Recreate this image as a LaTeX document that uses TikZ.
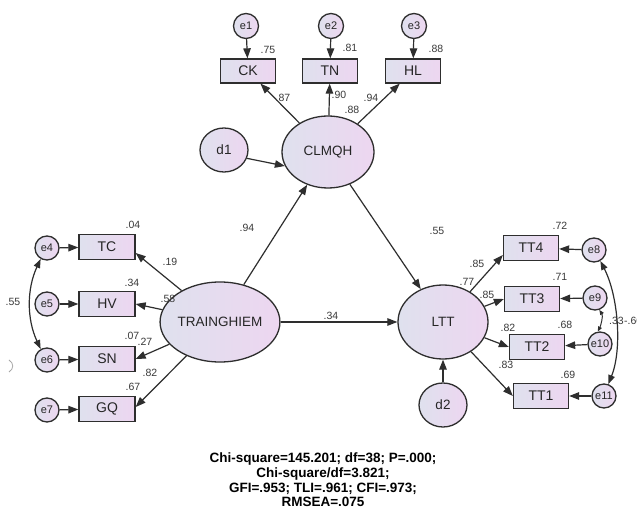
\documentclass[tikz,border=0pt]{standalone}
\usepackage{fontspec}
\setmainfont{Liberation Sans}
\usetikzlibrary{shapes.geometric,arrows.meta}
\definecolor{bord}{HTML}{2E2E2E}
\definecolor{fillL}{HTML}{DFE1EE}
\definecolor{fillR}{HTML}{EDD6F0}
\definecolor{txt}{HTML}{262626}
\definecolor{lab}{HTML}{3A3A3A}
\tikzset{
  obs/.style={rectangle, draw=bord, line width=1.3pt, left color=fillL, right color=fillR,
    minimum width=55pt, minimum height=24pt, inner sep=0pt, text=txt,
    font=\fontsize{14}{14}\selectfont},
  lat/.style={ellipse, draw=bord, line width=1.3pt, left color=fillL, right color=fillR,
    inner sep=0pt, text=txt, font=\fontsize{13.5}{13.5}\selectfont},
  err/.style={circle, draw=bord, line width=1.3pt, left color=fillL, right color=fillR,
    minimum size=25pt, inner sep=0pt, text=txt, font=\fontsize{11}{11}\selectfont},
  dist/.style={ellipse, draw=bord, line width=1.3pt, left color=fillL, right color=fillR,
    minimum width=48pt, minimum height=44pt, inner sep=0pt, text=txt,
    font=\fontsize{13.5}{13.5}\selectfont},
  pth/.style={draw=bord, line width=1.2pt, -{Triangle[length=10pt,width=7.5pt]}},
  corr/.style={draw=bord, line width=1.2pt, {Triangle[length=9pt,width=6.5pt]}-{Triangle[length=9pt,width=6.5pt]}},
  coef/.style={text=lab, inner sep=0pt, font=\fontsize{10.5}{10.5}\selectfont},
}
\begin{document}
\begin{tikzpicture}[x=1pt,y=-1pt]
\useasboundingbox (0,0) rectangle (637,510);
\clip (0,0) rectangle (637,510);
\fill[white] (0,0) rectangle (637,510);

% top indicators
\node[err] (e1) at (246,26) {e1};
\node[err] (e2) at (331,26) {e2};
\node[err] (e3) at (414,26) {e3};
\node[obs] (CK) at (248,71) {CK};
\node[obs] (TN) at (330,71) {TN};
\node[obs] (HL) at (413,71) {HL};

% latent
\node[dist] (d1) at (224,150) {d1};
\node[lat, minimum width=92pt, minimum height=72pt] (CLMQH) at (328,152) {CLMQH};
\node[lat, minimum width=110pt, minimum height=80pt] (TR) at (220,322) {TRAINGHIEM};
\node[lat, minimum width=90pt, minimum height=74pt] (LTT) at (443,322) {LTT};
\node[dist] (d2) at (443,405) {d2};

% left indicators
\node[obs, minimum width=56pt, minimum height=25pt] (TC) at (107,247) {TC};
\node[obs, minimum width=56pt, minimum height=25pt] (HV) at (107,304) {HV};
\node[obs, minimum width=56pt, minimum height=25pt] (SN) at (107,359) {SN};
\node[obs, minimum width=56pt, minimum height=25pt] (GQ) at (107,409) {GQ};
\node[err, minimum size=24pt] (e4) at (47,248) {e4};
\node[err, minimum size=24pt] (e5) at (47,304) {e5};
\node[err, minimum size=24pt] (e6) at (47,360) {e6};
\node[err, minimum size=24pt] (e7) at (47,410) {e7};

% right indicators
\node[obs, minimum height=25pt] (TT4) at (531,248) {TT4};
\node[obs, minimum height=25pt] (TT3) at (532,299) {TT3};
\node[obs, minimum height=25pt] (TT2) at (537,347) {TT2};
\node[obs, minimum height=25pt] (TT1) at (541,396) {TT1};
\node[err, minimum size=24pt] (e8) at (594,250) {e8};
\node[err, minimum size=24pt] (e9) at (595,298) {e9};
\node[err, minimum size=24pt] (e10) at (600,344) {e10};
\node[err, minimum size=24pt] (e11) at (604,396) {e11};

% paths
\draw[pth] (e1) -- (CK);
\draw[pth] (e2) -- (TN);
\draw[pth] (e3) -- (HL);
\draw[pth] (CLMQH) -- (CK);
\draw[pth] (CLMQH) -- (TN);
\draw[pth] (CLMQH) -- (HL);
\draw[pth] (d1.-20) -- (CLMQH.198);
\draw[pth] (TR) -- (CLMQH);
\draw[pth] (CLMQH) -- (LTT);
\draw[pth] (TR) -- (LTT);
\draw[pth] (d2) -- (LTT);

\draw[pth] (TR) -- ([yshift=-6pt]TC.east);
\draw[pth] (TR) -- (HV.east);
\draw[pth] (TR) -- (SN.east);
\draw[pth] (TR) -- ([yshift=2pt]GQ.east);
\draw[pth] (e4) -- (TC);
\draw[pth] (e5) -- (HV);
\draw[pth] (e6) -- (SN);
\draw[pth] (e7) -- (GQ);

\draw[pth] (LTT) -- ([yshift=-7pt]TT4.west);
\draw[pth] (LTT) -- (TT3.west);
\draw[pth] (LTT) -- (TT2.west);
\draw[pth] (LTT) -- (TT1.west);
\draw[pth] (e8) -- (TT4);
\draw[pth] (e9) -- (TT3);
\draw[pth] (e10) -- (TT2);
\draw[pth] (e11) -- (TT1);

% correlations
\draw[corr] (e4.-120) .. controls +(-14,30) and +(-14,-30) .. (e6.120);
\draw[corr] (e8.-60) .. controls +(18,35) and +(14,-35) .. (e11.70);
\draw[draw=bord, line width=1pt, {Triangle[length=5pt,width=4pt]}-{Triangle[length=5pt,width=4pt]}]
  (e9.-70) .. controls +(4,6) and +(3,-6) .. (e10.100);

% coefficients
\node[coef] (c1) at (268,50) {.75};
\node[coef] (c2) at (350,48) {.81};
\node[coef] (c3) at (436,49) {.88};
\node[coef] (c4) at (283,98) {.87};
\node[coef] (c5) at (339,95) {.90};
\node[coef] (c6) at (371,98) {.94};
\node[coef] (c7) at (352,110) {.88};
\node[coef] (c8) at (247,228) {.94};
\node[coef] (c9) at (437,231) {.55};
\node[coef] (c10) at (331,316) {.34};
\node[coef] (c11) at (133,225) {.04};
\node[coef] (c12) at (170,262) {.19};
\node[coef] (c13) at (132,283) {.34};
\node[coef] (c14) at (168,299) {.58};
\node[coef] (c15) at (132,336) {.07};
\node[coef] (c16) at (145,342) {.27};
\node[coef] (c17) at (150,373) {.82};
\node[coef] (c18) at (133,387) {.67};
\node[coef] (c19) at (13,302) {.55};
\node[coef] (c20) at (560,226) {.72};
\node[coef] (c21) at (477,264) {.85};
\node[coef] (c22) at (467,282) {.77};
\node[coef] (c23) at (560,277) {.71};
\node[coef] (c24) at (487,295) {.85};
\node[coef] (c25) at (508,328) {.82};
\node[coef] (c26) at (565,325) {.68};
\node[coef] (c27) at (506,365) {.83};
\node[coef] (c28) at (568,375) {.69};
\node[coef, anchor=west] (c29) at (609,321) {.33};
\node[coef, anchor=west] (c30) at (624,321) {-.60};

% faint partial arc at left edge
\draw[black!35, line width=0.8pt] (9,360) .. controls (14,363) and (14,369) .. (9,372);

% fit statistics
\node[align=center, text=black, inner sep=0pt, font=\bfseries\fontsize{13.5}{14.7}\selectfont] (stats) at (323,480)
  {Chi-square=145.201; df=38; P=.000;\\Chi-square/df=3.821;\\GFI=.953; TLI=.961; CFI=.973;\\RMSEA=.075};
\end{tikzpicture}
\end{document}
